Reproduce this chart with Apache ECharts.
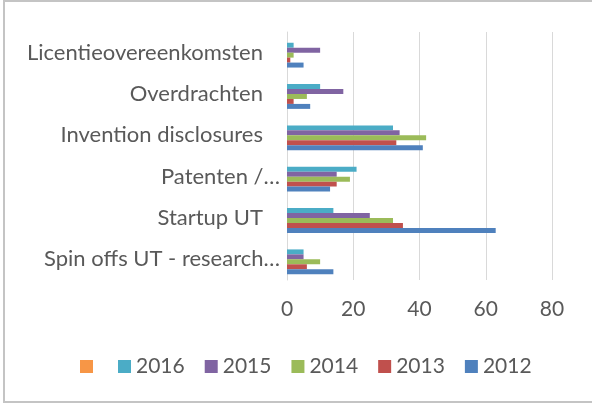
<!DOCTYPE html>
<html>
<head>
<meta charset="utf-8">
<script src="https://cdn.jsdelivr.net/npm/echarts@6/dist/echarts.min.js"></script>
<style>
  html, body { margin: 0; padding: 0; background: #fff; }
  #chart { width: 592px; height: 406px; }
</style>
</head>
<body>
<div id="chart"></div>
<script>
// categories, bottom to top
const categories = ["Spin offs UT - research…", "Startup UT", "Patenten /…", "Invention disclosures", "Overdrachten", "Licentieovereenkomsten"];

// values per year
const y2012 = [14, 63, 13, 41, 7, 5];
const y2013 = [6, 35, 15, 33, 2, 1];
const y2014 = [10, 32, 19, 42, 6, 2];
const y2015 = [5, 25, 15, 34, 17, 10];
const y2016 = [5, 14, 21, 32, 10, 2];
// unnamed series, no visible bars
const yBlank = [0, 0, 0, 0, 0, 0];

const xTicks = [0, 20, 40, 60, 80];

const textColor = "#595959";
const fontFamily = "Lato";

function barSeries(name, data, color) {
  return {
    name: name,
    type: "bar",
    data: data,
    itemStyle: { color: color },
    barGap: "0%",
    barCategoryGap: "28%",
  };
}

// first series ends up on top of each group
const series = [
  barSeries("\u200b", yBlank, "#F79646"),
  barSeries("2016", y2016, "#4BACC6"),
  barSeries("2015", y2015, "#8064A2"),
  barSeries("2014", y2014, "#9BBB59"),
  barSeries("2013", y2013, "#C0504D"),
  barSeries("2012", y2012, "#4F81BD"),
];

const option = {
  animation: false,
  backgroundColor: "#fff",
  textStyle: { fontFamily: fontFamily, color: textColor },
  graphic: [
    {
      type: "rect",
      shape: { x: 4, y: 1, width: 640, height: 401 },
      style: { fill: null, stroke: "#c4c4c4", lineWidth: 2 },
      silent: true,
    },
  ],
  legend: {
    data: series.map((s) => s.name),
    left: 75,
    top: 351,
    icon: "rect",
    itemWidth: 13,
    itemHeight: 13,
    itemGap: 20,
    textStyle: { fontFamily: fontFamily, fontSize: 21, color: textColor },
  },
  grid: {
    left: 287,
    right: 40,
    top: 32,
    bottom: 126,
  },
  xAxis: {
    type: "value",
    min: xTicks[0],
    max: xTicks[xTicks.length - 1],
    interval: xTicks[1] - xTicks[0],
    axisLine: { show: false },
    axisTick: { show: false },
    splitLine: { lineStyle: { color: "#d9d9d9", width: 1 } },
    axisLabel: { fontFamily: fontFamily, fontSize: 21, color: textColor, margin: 19 },
  },
  yAxis: {
    type: "category",
    data: categories,
    axisLine: { show: true, lineStyle: { color: "#d9d9d9", width: 1 } },
    axisTick: { show: false },
    axisLabel: {
      margin: 7,
      fontFamily: fontFamily,
      fontSize: 22,
      color: textColor,
      // truncated names sit further right than full ones
      formatter: function (v) {
        return v.endsWith("…") ? "{t|" + v + "}" : "{f|" + v + "}";
      },
      rich: {
        t: { fontFamily: fontFamily, fontSize: 22, color: textColor },
        f: { fontFamily: fontFamily, fontSize: 22, color: textColor, padding: [0, 17, 0, 0] },
      },
    },
  },
  series: series,
};

const chart = echarts.init(document.getElementById("chart"));
chart.setOption(option);
</script>
</body>
</html>
